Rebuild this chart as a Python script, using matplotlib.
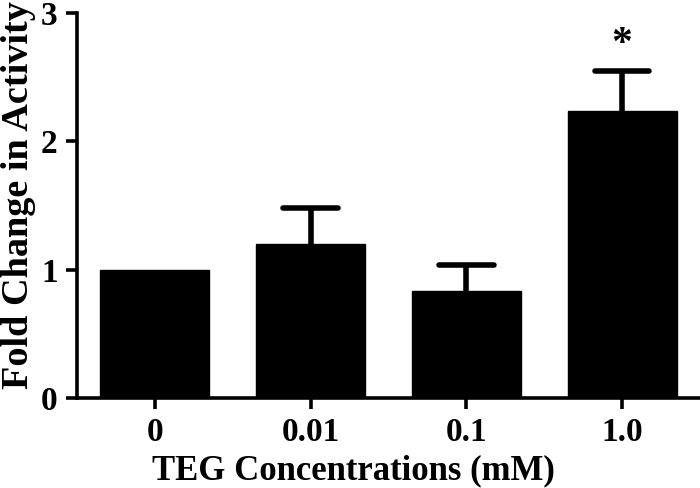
import matplotlib
matplotlib.use("Agg")
import matplotlib.pyplot as plt

categories = ["0", "0.01", "0.1", "1.0"]
values = [1.0, 1.20, 0.83, 2.24]
errors = [0.0, 0.28, 0.21, 0.31]
yticks = [0, 1, 2, 3]
significance = ["", "", "", "*"]

plt.rcParams['font.family'] = ['Liberation Serif', 'DejaVu Serif']
plt.rcParams['font.weight'] = 'bold'

fig = plt.figure(figsize=(7.0, 4.88), dpi=100)
ax = fig.add_axes([0.11, 0.1844, 0.89, 0.789])

x = list(range(len(categories)))
ax.bar(x, values, width=0.70, color='black', edgecolor='black', zorder=2)
cap_half = 0.175
for xi, v, e in zip(x, values, errors):
    if e > 0:
        ax.vlines(xi, v, v + e, colors='black', linewidth=4, zorder=1)
        ax.hlines(v + e, xi - cap_half, xi + cap_half, colors='black',
                  linewidth=4, zorder=1, capstyle='round')
for xi, v, e, s in zip(x, values, errors, significance):
    if s:
        ax.text(xi, v + e + 0.2, s, ha='center', va='center', fontsize=30,
                fontweight='bold')

ax.set_xlim(-0.5, 3.5)
ax.set_ylim(0, 3)
ax.set_xticks(x)
ax.set_xticklabels(categories)
ax.set_yticks(yticks)
ax.tick_params(axis='both', labelsize=24, width=2.6, length=8, pad=6)
for lab in ax.get_xticklabels() + ax.get_yticklabels():
    lab.set_fontweight('bold')

for sp in ['top', 'right']:
    ax.spines[sp].set_visible(False)
for sp in ['left', 'bottom']:
    ax.spines[sp].set_linewidth(2.6)

ax.set_xlabel("TEG Concentrations (mM)", fontsize=25, fontweight='bold')
ax.xaxis.set_label_coords(0.443, -0.145)
ax.set_ylabel("Fold Change in Activity", fontsize=27.5, fontweight='bold')
ax.yaxis.set_label_coords(-0.066, 0.527)

fig.savefig("out.png", dpi=100)
